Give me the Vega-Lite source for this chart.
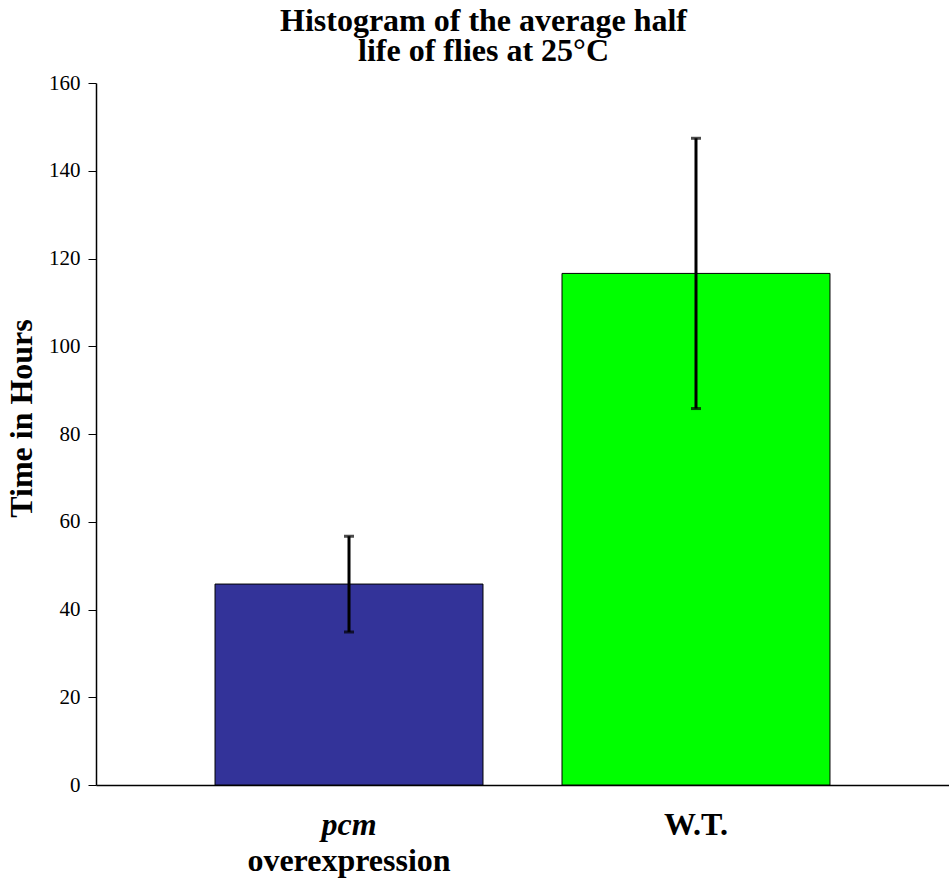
{
  "$schema": "https://vega.github.io/schema/vega-lite/v6.json",
  "width": 853,
  "height": 702,
  "autosize": "none",
  "padding": {"left": 96, "top": 83, "right": 0, "bottom": 95},
  "background": "white",
  "config": {
    "font": "Liberation Serif",
    "view": {"stroke": null}
  },
  "title": {
    "text": ["Histogram of the average half", "life of flies at 25°C"],
    "font": "Liberation Serif",
    "fontSize": 32,
    "fontWeight": "bold",
    "lineHeight": 30,
    "anchor": "middle",
    "frame": "group",
    "dx": -39,
    "offset": 4,
    "color": "black"
  },
  "data": {
    "values": [
      {"group": "pcm overexpression", "hours": 45.8, "lo": 34.9, "hi": 56.7},
      {"group": "W.T.", "hours": 116.6, "lo": 85.8, "hi": 147.4}
    ]
  },
  "resolve": {"axis": {"x": "independent"}},
  "layer": [
    {
      "mark": {"type": "bar", "stroke": "black", "strokeWidth": 1},
      "encoding": {
        "x": {
          "field": "group",
          "type": "nominal",
          "sort": null,
          "scale": {"paddingInner": 0.2277, "paddingOuter": 0.343},
          "axis": {
            "orient": "bottom",
            "title": null,
            "labelAngle": 0,
            "labelLimit": 0,
            "labelExpr": "datum.value == 'W.T.' ? 'W.T.' : 'pcm'",
            "labelFont": "Liberation Serif",
            "labelFontSize": 32,
            "labelFontWeight": "bold",
            "labelFontStyle": {"condition": {"test": "datum.value != 'W.T.'", "value": "italic"}, "value": "normal"},
            "labelColor": "black",
            "labelPadding": 24,
            "ticks": false,
            "tickSize": 0,
            "domainColor": "black",
            "domainWidth": 1.5
          }
        },
        "y": {
          "field": "hours",
          "type": "quantitative",
          "scale": {"domain": [0, 160], "nice": false},
          "axis": {
            "title": "Time in Hours",
            "titleFont": "Liberation Serif",
            "titleFontSize": 32,
            "titleFontWeight": "bold",
            "titleColor": "black",
            "titlePadding": 10,
            "titleY": 335,
            "values": [0, 20, 40, 60, 80, 100, 120, 140, 160],
            "grid": false,
            "labelFont": "Liberation Serif",
            "labelFontSize": 21,
            "labelColor": "black",
            "labelPadding": 8,
            "tickSize": 8,
            "tickColor": "black",
            "domainColor": "black",
            "domainWidth": 1.5
          }
        },
        "color": {
          "field": "group",
          "type": "nominal",
          "scale": {"domain": ["pcm overexpression", "W.T."], "range": ["#333399", "#00FF00"]},
          "legend": null
        }
      }
    },
    {
      "mark": {"type": "rule", "color": "black", "strokeWidth": 3},
      "encoding": {
        "x": {
          "field": "group",
          "type": "nominal",
          "sort": null,
          "axis": {
            "orient": "bottom",
            "title": null,
            "labelAngle": 0,
            "labelLimit": 0,
            "labelExpr": "datum.value == 'W.T.' ? '' : 'overexpression'",
            "labelFont": "Liberation Serif",
            "labelFontSize": 32,
            "labelFontWeight": "bold",
            "labelColor": "black",
            "labelPadding": 24,
            "offset": 36,
            "ticks": false,
            "tickSize": 0,
            "domain": false
          }
        },
        "y": {"field": "lo", "type": "quantitative"},
        "y2": {"field": "hi"}
      }
    },
    {
      "mark": {"type": "tick", "color": "black", "thickness": 3, "size": 10},
      "encoding": {
        "x": {"field": "group", "type": "nominal", "sort": null, "axis": null},
        "y": {"field": "lo", "type": "quantitative"}
      }
    },
    {
      "mark": {"type": "tick", "color": "black", "thickness": 3, "size": 10},
      "encoding": {
        "x": {"field": "group", "type": "nominal", "sort": null, "axis": null},
        "y": {"field": "hi", "type": "quantitative"}
      }
    }
  ]
}
